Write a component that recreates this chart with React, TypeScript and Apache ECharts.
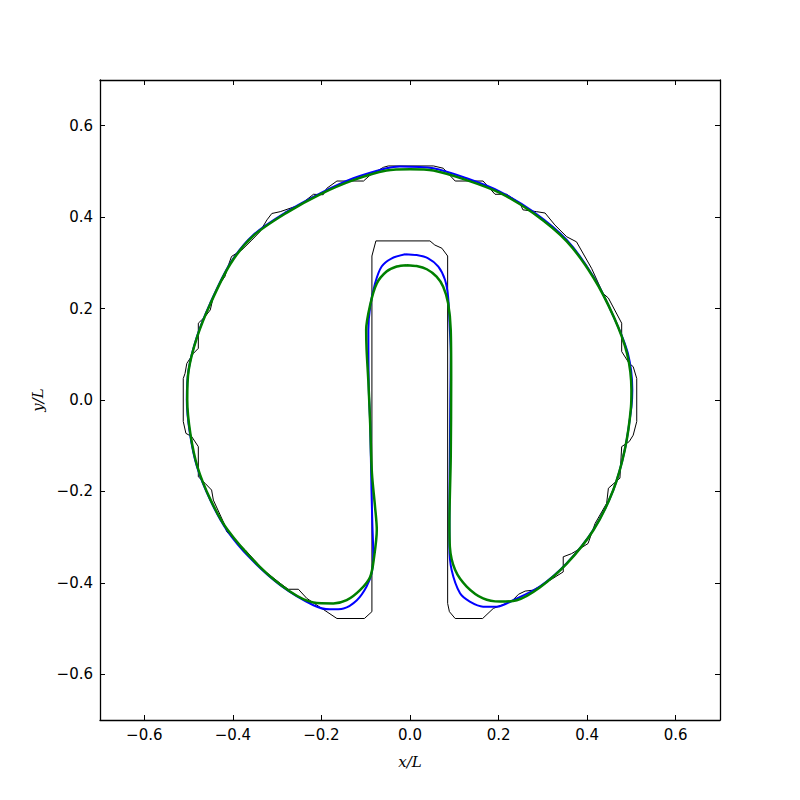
import React, { useEffect, useRef } from "react";
import * as echarts from "echarts";

// Black thin outline (staircase interface), closed
const blackOutline: number[][] = [
  [-0.077, 0.348], [0.045, 0.348], [0.056, 0.339], [0.072, 0.332], [0.085, 0.315],
  [0.085, -0.445], [0.089, -0.463], [0.102, -0.478], [0.164, -0.478], [0.188, -0.456],
  [0.230, -0.440], [0.245, -0.425], [0.260, -0.418], [0.278, -0.416], [0.320, -0.392],
  [0.346, -0.376], [0.346, -0.343], [0.365, -0.336], [0.384, -0.325], [0.402, -0.314],
  [0.418, -0.270], [0.444, -0.226], [0.448, -0.193], [0.474, -0.171], [0.478, -0.102],
  [0.495, -0.091], [0.504, -0.077], [0.512, -0.047], [0.512, 0.047], [0.504, 0.073],
  [0.495, 0.080], [0.478, 0.106], [0.478, 0.168], [0.448, 0.223], [0.436, 0.233],
  [0.410, 0.288], [0.376, 0.346], [0.354, 0.357], [0.327, 0.383], [0.305, 0.409],
  [0.286, 0.412], [0.255, 0.416], [0.248, 0.431], [0.218, 0.450], [0.192, 0.450],
  [0.165, 0.479], [0.102, 0.479], [0.075, 0.507], [0.053, 0.512], [-0.049, 0.512],
  [-0.060, 0.509], [-0.090, 0.492], [-0.105, 0.479], [-0.165, 0.479], [-0.188, 0.463],
  [-0.196, 0.449], [-0.218, 0.450], [-0.244, 0.430], [-0.252, 0.425], [-0.263, 0.422],
  [-0.293, 0.412], [-0.312, 0.408], [-0.323, 0.394], [-0.339, 0.368], [-0.357, 0.350],
  [-0.380, 0.328], [-0.403, 0.314], [-0.410, 0.295], [-0.418, 0.270], [-0.429, 0.255],
  [-0.444, 0.226], [-0.451, 0.197], [-0.463, 0.182], [-0.478, 0.168], [-0.478, 0.113],
  [-0.489, 0.102], [-0.504, 0.080], [-0.508, 0.058], [-0.512, 0.047], [-0.512, -0.047],
  [-0.506, -0.073], [-0.493, -0.080], [-0.478, -0.102], [-0.478, -0.168], [-0.463, -0.182],
  [-0.448, -0.197], [-0.444, -0.219], [-0.418, -0.274], [-0.414, -0.288], [-0.403, -0.299],
  [-0.372, -0.328], [-0.331, -0.372], [-0.293, -0.401], [-0.275, -0.414], [-0.252, -0.414],
  [-0.233, -0.434], [-0.165, -0.478], [-0.103, -0.478], [-0.086, -0.463], [-0.086, 0.315],
  [-0.077, 0.348],
];

// Blue curve, closed
const blueCurve: number[][] = [
  [-0.011, 0.319], [0.015, 0.317], [0.041, 0.310], [0.064, 0.292], [0.079, 0.263],
  [0.086, 0.226], [0.090, 0.153], [0.092, 0.100], [0.091, 0.000], [0.090, -0.124],
  [0.089, -0.250], [0.089, -0.321], [0.094, -0.372], [0.113, -0.423], [0.135, -0.441],
  [0.165, -0.452], [0.196, -0.452], [0.233, -0.438], [0.293, -0.408], [0.354, -0.357],
  [0.414, -0.284], [0.459, -0.197], [0.485, -0.109], [0.500, -0.015], [0.502, 0.022],
  [0.492, 0.102], [0.460, 0.182], [0.414, 0.270], [0.354, 0.350], [0.278, 0.412],
  [0.203, 0.456], [0.128, 0.485], [0.053, 0.507], [-0.023, 0.511], [-0.053, 0.507],
  [-0.128, 0.485], [-0.203, 0.452], [-0.278, 0.412], [-0.354, 0.361], [-0.406, 0.299],
  [-0.451, 0.212], [-0.481, 0.139], [-0.500, 0.066], [-0.504, 0.000], [-0.497, -0.073],
  [-0.481, -0.146], [-0.451, -0.219], [-0.414, -0.284], [-0.361, -0.346], [-0.293, -0.405],
  [-0.218, -0.449], [-0.181, -0.458], [-0.150, -0.456], [-0.120, -0.438], [-0.098, -0.408],
  [-0.086, -0.376], [-0.083, -0.336], [-0.085, -0.270], [-0.087, -0.197], [-0.090, -0.050],
  [-0.093, 0.022], [-0.094, 0.153], [-0.090, 0.204], [-0.079, 0.255], [-0.064, 0.292],
  [-0.041, 0.310], [-0.011, 0.319],
];

// Green curve, closed
const greenCurve: number[][] = [
  [-0.007, 0.295], [0.015, 0.293], [0.038, 0.286], [0.060, 0.270], [0.075, 0.248],
  [0.086, 0.212], [0.092, 0.153], [0.093, 0.050], [0.092, -0.124], [0.089, -0.270],
  [0.090, -0.321], [0.102, -0.372], [0.128, -0.408], [0.165, -0.434], [0.203, -0.441],
  [0.241, -0.438], [0.293, -0.410], [0.354, -0.358], [0.414, -0.285], [0.459, -0.197],
  [0.485, -0.109], [0.499, -0.015], [0.500, 0.022], [0.490, 0.102], [0.460, 0.182],
  [0.414, 0.268], [0.354, 0.347], [0.278, 0.409], [0.203, 0.453], [0.128, 0.481],
  [0.053, 0.502], [0.000, 0.505], [-0.053, 0.502], [-0.128, 0.481], [-0.203, 0.450],
  [-0.278, 0.410], [-0.354, 0.359], [-0.406, 0.297], [-0.451, 0.210], [-0.481, 0.137],
  [-0.500, 0.064], [-0.503, 0.000], [-0.496, -0.073], [-0.480, -0.146], [-0.450, -0.219],
  [-0.412, -0.284], [-0.339, -0.365], [-0.271, -0.419], [-0.218, -0.443], [-0.173, -0.445],
  [-0.143, -0.438], [-0.113, -0.416], [-0.090, -0.387], [-0.081, -0.343], [-0.075, -0.284],
  [-0.079, -0.233], [-0.086, -0.160], [-0.090, -0.050], [-0.094, 0.040], [-0.098, 0.110],
  [-0.099, 0.153], [-0.090, 0.208], [-0.075, 0.255], [-0.053, 0.281], [-0.030, 0.292],
  [-0.007, 0.295],
];

const AXIS_MIN = -0.7;
const AXIS_MAX = 0.7;

const fmt = (v: number) => {
  if (Math.abs(Math.abs(v) - 0.7) < 1e-6) return "";
  const s = Math.abs(v).toFixed(1);
  return v < -1e-9 ? "\u2212" + s : s;
};

export default function App() {
  const ref = useRef<HTMLDivElement>(null);
  useEffect(() => {
    if (!ref.current) return;
    const chart = echarts.init(ref.current, undefined, { renderer: "svg" });
    const baseAxis = {
      type: "value" as const,
      min: AXIS_MIN,
      max: AXIS_MAX,
      splitNumber: 7,
      splitLine: { show: false },
      axisLine: { show: true, onZero: false, lineStyle: { color: "#000", width: 1.3 } },
      axisTick: { show: true, inside: true, length: 5, lineStyle: { color: "#000", width: 1 } },
    };
    const label = {
      show: true,
      color: "#000",
      fontFamily: "DejaVu Sans",
      fontSize: 15,
      formatter: fmt,
    };
    chart.setOption({
      animation: false,
      backgroundColor: "#fff",
      grid: { left: 100, right: 80, top: 80, bottom: 80 },
      xAxis: [
        {
          ...baseAxis,
          position: "bottom",
          axisLabel: { ...label, margin: 7 },
          name: "x/L",
          nameLocation: "middle",
          nameGap: 34,
          nameTextStyle: { fontFamily: "DejaVu Serif", fontStyle: "italic", fontSize: 15, color: "#000" },
        },
        { ...baseAxis, position: "top", axisLabel: { show: false } },
      ],
      yAxis: [
        {
          ...baseAxis,
          position: "left",
          axisLabel: { ...label, margin: 7 },
          name: "y/L",
          nameLocation: "middle",
          nameGap: 55,
          nameTextStyle: { fontFamily: "DejaVu Serif", fontStyle: "italic", fontSize: 15, color: "#000" },
        },
        { ...baseAxis, position: "right", axisLabel: { show: false } },
      ],
      series: [
        {
          type: "line",
          data: blackOutline,
          showSymbol: false,
          xAxisIndex: 0,
          yAxisIndex: 0,
          lineStyle: { color: "#000", width: 1 },
          silent: true,
        },
        {
          type: "line",
          data: blueCurve,
          showSymbol: false,
          smooth: 0.3,
          xAxisIndex: 0,
          yAxisIndex: 0,
          lineStyle: { color: "#0000ff", width: 2 },
          silent: true,
        },
        {
          type: "line",
          data: greenCurve,
          showSymbol: false,
          smooth: 0.3,
          xAxisIndex: 0,
          yAxisIndex: 0,
          lineStyle: { color: "#008000", width: 2.5 },
          silent: true,
        },
      ],
    });
    return () => chart.dispose();
  }, []);
  return (
    <div
      ref={ref}
      style={{ position: "fixed", left: 0, top: 0, width: 800, height: 800, background: "#fff" }}
    />
  );
}
